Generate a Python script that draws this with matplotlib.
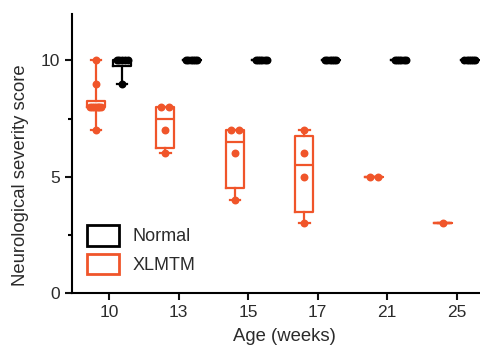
import matplotlib
matplotlib.use('Agg')
import matplotlib.pyplot as plt
from matplotlib.patches import Patch
from matplotlib.ticker import MultipleLocator
import numpy as np

plt.rcParams['font.family'] = ['Liberation Sans', 'DejaVu Sans']

weeks = ['10', '13', '15', '17', '21', '25']

normal_scores = [
    [9, 10, 10, 10, 10, 10],
    [10, 10, 10, 10, 10, 10],
    [10, 10, 10, 10, 10, 10],
    [10, 10, 10, 10, 10, 10],
    [10, 10, 10, 10, 10, 10],
    [10, 10, 10, 10, 10, 10],
]
xlmtm_scores = [
    [7, 8, 8, 8, 8, 8, 8, 8, 9, 10],
    [6, 7, 8, 8],
    [4, 6, 7, 7],
    [3, 5, 6, 7],
    [5, 5],
    [3],
]

BLACK = '#000000'
ORANGE = '#F0552A'
TEXT = '#2b2b2b'


def quart(v, p):
    # (n+1) quantile method, as Prism does it
    v = np.sort(np.asarray(v, float))
    n = len(v)
    pos = min(max(p * (n + 1), 1), n) - 1
    lo = int(np.floor(pos))
    hi = min(lo + 1, n - 1)
    return v[lo] + (pos - lo) * (v[hi] - v[lo])


def box_stats(v):
    return dict(med=quart(v, 0.5), q1=quart(v, 0.25), q3=quart(v, 0.75),
                whislo=min(v), whishi=max(v), fliers=[])


def spread(v, center, width=0.16, step=0.12):
    xs, ys = [], []
    vals, counts = np.unique(v, return_counts=True)
    for val, k in zip(vals, counts):
        d = min(step, width / (k - 1)) if k > 1 else 0
        for i in range(k):
            xs.append(center + (i - (k - 1) / 2) * d)
            ys.append(val)
    return xs, ys


fig = plt.figure(figsize=(4.81, 3.5), dpi=100)
ax = fig.add_axes([0.15, 0.163, 0.85, 0.797])

pos = np.arange(len(weeks))
off = 0.19
for scores, color, sign in [(xlmtm_scores, ORANGE, -1), (normal_scores, BLACK, 1)]:
    centers = pos + sign * off
    stats = [box_stats(s) for s in scores]
    props = dict(color=color, linewidth=1.6)
    ax.bxp(stats, positions=centers, widths=0.26, capwidths=0.15,
           showfliers=False, boxprops=props, medianprops=props,
           whiskerprops=props, capprops=props, manage_ticks=False, zorder=2)
    for c, s in zip(centers, scores):
        xs, ys = spread(s, c)
        ax.plot(xs, ys, 'o', color=color, markersize=5.7, markeredgewidth=0,
                zorder=3, clip_on=False)

ax.set_xlim(-0.53, 5.35)
ax.set_ylim(0, 12)
ax.set_xticks(pos)
ax.set_xticklabels(weeks)
ax.set_yticks([0, 5, 10])
ax.yaxis.set_minor_locator(MultipleLocator(2.5))

for side in ['top', 'right']:
    ax.spines[side].set_visible(False)
for side in ['left', 'bottom']:
    ax.spines[side].set_linewidth(1.5)
ax.tick_params(axis='both', which='major', length=5, width=1.5, labelsize=12.5,
               pad=4, colors='#111111', labelcolor=TEXT)
ax.tick_params(axis='y', which='minor', length=3, width=1.5)

ax.set_xlabel('Age (weeks)', fontsize=13.3, color=TEXT)
ax.set_ylabel('Neurological severity score', fontsize=13.3, color=TEXT)
ax.xaxis.set_label_coords(0.52, -0.125)
ax.yaxis.set_label_coords(-0.105, 0.421)

handles = [Patch(facecolor='none', edgecolor=BLACK, linewidth=2),
           Patch(facecolor='none', edgecolor=ORANGE, linewidth=2)]
ax.legend(handles, ['Normal', 'XLMTM'], loc='lower left',
          bbox_to_anchor=(0.037, 0.068), frameon=False, fontsize=13,
          labelcolor=TEXT, handlelength=1.77, handleheight=1.35,
          labelspacing=0.45, handletextpad=0.72, borderpad=0, borderaxespad=0)

fig.savefig('out.png', dpi=100)
